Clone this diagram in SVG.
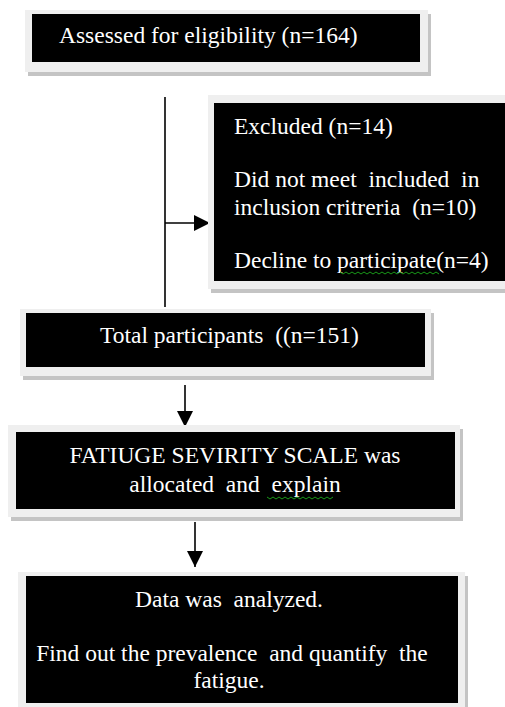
<svg xmlns="http://www.w3.org/2000/svg" width="505" height="707" viewBox="0 0 505 707">
<defs>
<style>
.sh{fill:#c4c4c4}
.fr{fill:#efefef}
.bx{fill:#000}
.t{fill:#fff;font-family:"Liberation Serif","Times New Roman",serif;font-size:23.5px;white-space:pre}
.c{stroke:#000;stroke-width:1.6;fill:none}
.sq{stroke:#1a9a1a;stroke-width:1;fill:none}
</style>
<marker id="ah" markerUnits="userSpaceOnUse" markerWidth="16" markerHeight="16" viewBox="0 0 14 14" refX="14" refY="7" orient="auto">
<path d="M0,0 L14,7 L0,14 Z" fill="#000"/>
</marker>
</defs>
<rect width="505" height="707" fill="#fff"/>
<g id="connectors">
<line class="c" x1="165" y1="97" x2="165" y2="307"/>
<line class="c" x1="165" y1="223" x2="210" y2="223" marker-end="url(#ah)"/>
<line class="c" x1="185" y1="385" x2="185" y2="427" marker-end="url(#ah)"/>
<line class="c" x1="195" y1="522" x2="195" y2="567" marker-end="url(#ah)"/>
</g>
<g id="assessed">
<rect class="sh" x="28" y="14" width="403" height="62"/>
<rect class="fr" x="25" y="10" width="403" height="62"/>
<rect class="bx" x="32" y="14" width="388" height="48"/>
<text class="t" x="59" y="43">Assessed for eligibility (n=164)</text>
</g>
<g id="excluded">
<rect class="sh" x="211" y="99" width="294" height="194"/>
<rect class="fr" x="208" y="95" width="297" height="194"/>
<rect class="bx" x="214" y="103" width="291" height="178"/>
<text class="t" x="234" y="134">Excluded (n=14)</text>
<text class="t" x="234" y="187" xml:space="preserve">Did not meet  included  in</text>
<text class="t" x="234" y="215" xml:space="preserve">inclusion critreria  (n=10)</text>
<text class="t" x="234" y="268">Decline to participate(n=4)</text>
<path class="sq" d="M340,272 l3,2 l3,-2 l3,2 l3,-2 l3,2 l3,-2 l3,2 l3,-2 l3,2 l3,-2 l3,2 l3,-2 l3,2 l3,-2 l3,2 l3,-2 l3,2 l3,-2 l3,2 l3,-2 l3,2 l3,-2 l3,2 l3,-2 l3,2 l3,-2 l3,2 l3,-2 l3,2 l3,-2 l3,2 l3,-2 l3,2"/>
</g>
<g id="total">
<rect class="sh" x="23" y="313" width="411" height="67"/>
<rect class="fr" x="20" y="309" width="411" height="67"/>
<rect class="bx" x="26" y="313" width="399" height="54"/>
<text class="t" x="100" y="343" xml:space="preserve">Total participants  ((n=151)</text>
</g>
<g id="fss">
<rect class="sh" x="11" y="429" width="452" height="92"/>
<rect class="fr" x="8" y="425" width="452" height="92"/>
<rect class="bx" x="16" y="432" width="439" height="77"/>
<text class="t" x="235" y="463" text-anchor="middle">FATIUGE SEVIRITY SCALE was</text>
<text class="t" x="235" y="492" text-anchor="middle" xml:space="preserve">allocated  and  explain</text>
<path class="sq" d="M267,497 l3,2 l3,-2 l3,2 l3,-2 l3,2 l3,-2 l3,2 l3,-2 l3,2 l3,-2 l3,2 l3,-2 l3,2 l3,-2 l3,2 l3,-2 l3,2 l3,-2 l3,2 l3,-2 l3,2 l3,-2"/>
</g>
<g id="data">
<rect class="sh" x="21" y="576" width="447" height="131"/>
<rect class="fr" x="18" y="572" width="447" height="135"/>
<rect class="bx" x="26" y="576" width="432" height="127"/>
<text class="t" x="229" y="607" text-anchor="middle" xml:space="preserve">Data was  analyzed.</text>
<text class="t" x="232" y="661" text-anchor="middle" xml:space="preserve">Find out the prevalence  and quantify  the</text>
<text class="t" x="229" y="688" text-anchor="middle">fatigue.</text>
</g>
</svg>
